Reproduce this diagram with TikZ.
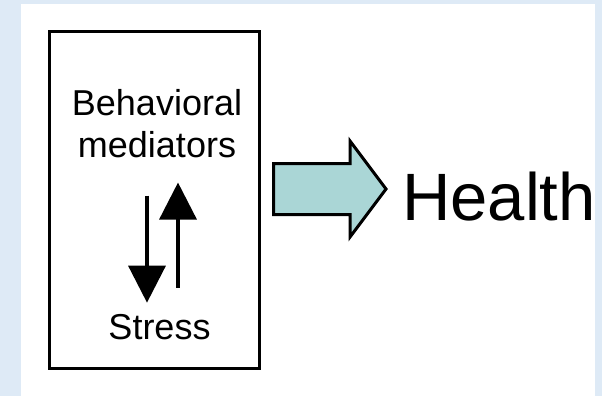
\documentclass[tikz,border=0pt]{standalone}
\usepackage{fontspec}
\setmainfont{Liberation Sans}
\usetikzlibrary{arrows.meta}
\definecolor{pagebg}{RGB}{222,234,246}
\definecolor{arrowfill}{RGB}{170,214,214}

\begin{document}
\begin{tikzpicture}[x=1pt,y=-1pt,
    lbl/.style={inner sep=0pt, font=\fontsize{36}{42}\selectfont},
    updown/.style={line width=3.5pt, -{Triangle[width=37pt,length=37pt]}}]
    \fill[pagebg] (0,0) rectangle (602,396);
    \fill[white] (21,4) rectangle (595,396);
    \node[draw, line width=3pt, minimum width=210pt, minimum height=337pt] (box) at (154.5,200) {};

    \node[lbl, align=center, anchor=base] (med) at (157,157) {Behavioral\\mediators};
    \node[lbl, anchor=base] (stress) at (159.5,339) {Stress};
    \node[inner sep=0pt, anchor=base west, font=\fontsize{67}{72}\selectfont] (health) at (402,220) {Health};

    \draw[updown] ([xshift=-10pt,yshift=-38pt]med.south) -- ([xshift=-12.5pt,yshift=11pt]stress.north);
    \draw[updown] ([xshift=18.5pt,yshift=26pt]stress.north) -- ([xshift=21pt,yshift=-25pt]med.south);

    \draw[line width=3pt, fill=arrowfill] (273.5,163.5) -- (350,163.5) -- (350,141) -- (386,189)
        -- (350,237) -- (350,214.5) -- (273.5,214.5) -- cycle;
\end{tikzpicture}
\end{document}
